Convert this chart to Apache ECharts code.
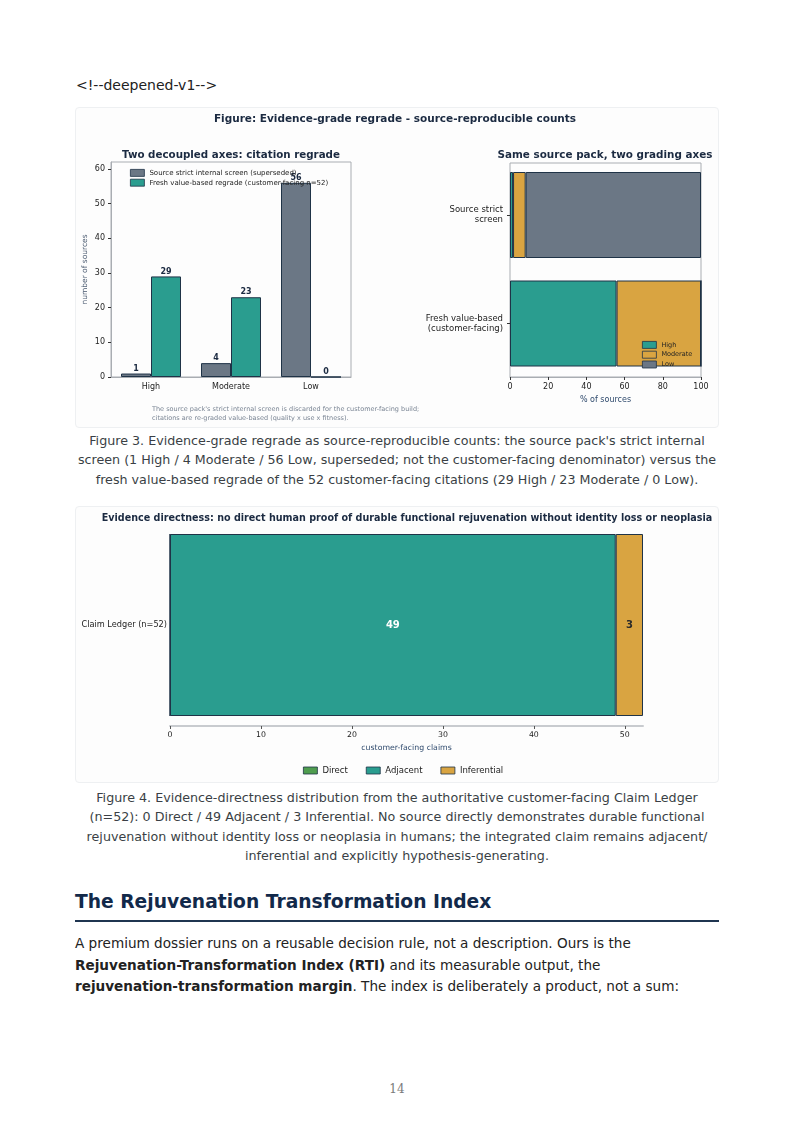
<!DOCTYPE html>
<html>
<head>
<meta charset="utf-8">
<script src="https://cdn.jsdelivr.net/npm/echarts@6/dist/echarts.min.js"></script>
<style>
  html, body { margin: 0; padding: 0; background: #fff; }
  body { width: 794px; height: 1123px; position: relative; font-family: 'DejaVu Sans', sans-serif; color: #222; }
  .abs { position: absolute; }
  .marker { left: 76px; top: 77px; font-size: 14px; color: #222; }
  .figbox { left: 75px; width: 644px; border: 1px solid #eef0f2; border-radius: 4px; background: #fdfdfd; box-sizing: border-box; }
  .caption { left: 60px; width: 674px; text-align: center; font-size: 12.7px; line-height: 19.4px; color: #3a3f45; white-space: nowrap; }
  h2 { position: absolute; left: 75px; top: 891px; margin: 0; font-size: 18.7px; color: #12294a; font-weight: bold; }
  .rule { left: 75px; top: 920px; width: 644px; height: 2px; background: #1f3550; }
  .para { left: 75px; top: 933px; font-size: 13.6px; line-height: 21.5px; color: #222; white-space: nowrap; }
  .pageno { left: 0; width: 794px; top: 1082px; text-align: center; font-family: 'DejaVu Serif', serif; font-size: 12px; color: #7a7a7a; }
</style>
</head>
<body>
<div class="abs marker">&lt;!--deepened-v1--&gt;</div>
<div id="fig3" class="abs figbox" style="top:107px;height:321px;"></div>
<div class="abs caption" style="top:431px;">Figure 3. Evidence-grade regrade as source-reproducible counts: the source pack's strict internal<br>screen (1 High / 4 Moderate / 56 Low, superseded; not the customer-facing denominator) versus the<br>fresh value-based regrade of the 52 customer-facing citations (29 High / 23 Moderate / 0 Low).</div>
<div id="fig4" class="abs figbox" style="top:506px;height:277px;"></div>
<div class="abs caption" style="top:788px;">Figure 4. Evidence-directness distribution from the authoritative customer-facing Claim Ledger<br>(n=52): 0 Direct / 49 Adjacent / 3 Inferential. No source directly demonstrates durable functional<br>rejuvenation without identity loss or neoplasia in humans; the integrated claim remains adjacent/<br>inferential and explicitly hypothesis-generating.</div>
<h2>The Rejuvenation Transformation Index</h2>
<div class="abs rule"></div>
<div class="abs para">A premium dossier runs on a reusable decision rule, not a description. Ours is the<br><b>Rejuvenation-Transformation Index (RTI)</b> and its measurable output, the<br><b>rejuvenation-transformation margin</b>. The index is deliberately a product, not a sum:</div>
<div class="abs pageno">14</div>

<script>
// figure 3 data
const grades = ['High', 'Moderate', 'Low'];
const strictCounts = [1, 4, 56];
const freshCounts = [29, 23, 0];
const packRows = ['Fresh value-based\n(customer-facing)', 'Source strict\nscreen'];
const highPct = [55.8, 1.6];
const moderatePct = [44.2, 6.6];
const lowPct = [0, 91.8];
const countTicks = [0, 10, 20, 30, 40, 50, 60];
const pctTicks = [0, 20, 40, 60, 80, 100];

// figure 4 data
const ledgerRow = ['Claim Ledger (n=52)'];
const directnessLevels = ['Direct', 'Adjacent', 'Inferential'];
const ledgerCounts = [0, 49, 3];
const claimTicks = [0, 10, 20, 30, 40, 50];

const FONT = 'DejaVu Sans';
const NAVY = '#1b2a41';
const EDGE = '#1f3347';
const SLATE = '#6b7785';
const TEAL = '#2a9d8f';
const GOLD = '#d9a441';
const GREEN = '#4f9d4f';
const AXIS = '#a9adb2';

function titleText(size) {
  return { fontSize: size, fontWeight: 'bold', color: NAVY, fontFamily: FONT };
}

const fig3 = echarts.init(document.getElementById('fig3'));
fig3.setOption({
  animation: false,
  textStyle: { fontFamily: FONT },
  title: [
    { text: 'Figure: Evidence-grade regrade - source-reproducible counts', left: 319, top: 6, padding: 0, textAlign: 'center', textStyle: titleText(10.5) },
    { text: 'Two decoupled axes: citation regrade', left: 155, top: 42, padding: 0, textAlign: 'center', textStyle: titleText(10.3) },
    { text: 'Same source pack, two grading axes', left: 529, top: 42, padding: 0, textAlign: 'center', textStyle: titleText(10.4) },
    { text: "The source pack's strict internal screen is discarded for the customer-facing build;\ncitations are re-graded value-based (quality x use x fitness).", left: 76, top: 297, padding: 0,
      textStyle: { fontSize: 6.5, fontWeight: 'normal', color: '#7a8594', lineHeight: 9, fontFamily: FONT } }
  ],
  legend: [
    { data: ['Source strict internal screen (superseded)', 'Fresh value-based regrade (customer-facing n=52)'],
      orient: 'vertical', left: 49, top: 56, itemWidth: 14, itemHeight: 7, itemGap: 2, icon: 'rect',
      itemStyle: { borderWidth: 0.8 },
      textStyle: { fontSize: 7, color: '#222', fontFamily: FONT } },
    { data: grades, orient: 'vertical', left: 561, top: 228, itemWidth: 14, itemHeight: 7, itemGap: 2, icon: 'rect',
      itemStyle: { borderWidth: 0.8 },
      textStyle: { fontSize: 6.5, color: '#222', fontFamily: FONT } }
  ],
  grid: [
    { left: 35, top: 54, width: 240, height: 215, show: true, borderColor: AXIS, borderWidth: 1, backgroundColor: 'transparent' },
    { left: 434, top: 55, width: 191, height: 214, show: true, borderColor: AXIS, borderWidth: 1, backgroundColor: 'transparent' },
    { left: 434, top: 52.75, width: 191, height: 217 }
  ],
  xAxis: [
    { gridIndex: 0, type: 'category', data: grades,
      axisLine: { lineStyle: { color: AXIS } }, axisTick: { alignWithLabel: true, length: 3, lineStyle: { color: '#333' } },
      axisLabel: { fontSize: 8, color: '#222', margin: 6 } },
    { gridIndex: 1, type: 'value', min: 0, max: 100, interval: 20, splitLine: { show: false },
      axisLine: { lineStyle: { color: AXIS } }, axisTick: { length: 3, lineStyle: { color: '#333' } },
      axisLabel: { fontSize: 8, color: '#222', margin: 6, customValues: pctTicks },
      name: '% of sources', nameLocation: 'middle', nameGap: 18, nameTextStyle: { fontSize: 8, color: '#2f4a6d' } },
    { gridIndex: 2, type: 'value', min: 0, max: 100, show: false }
  ],
  yAxis: [
    { gridIndex: 0, type: 'value', min: 0, max: 62, interval: 10, splitLine: { show: false },
      axisLine: { show: true, lineStyle: { color: AXIS } },
      axisTick: { show: true, length: 3, lineStyle: { color: '#333' }, customValues: countTicks },
      axisLabel: { fontSize: 8, color: '#222', margin: 6, customValues: countTicks },
      name: 'number of sources', nameLocation: 'middle', nameGap: 22, nameRotate: 90,
      nameTextStyle: { fontSize: 7.5, color: '#4a5a70' } },
    { gridIndex: 1, type: 'value', min: 0, max: 1, show: false },
    { gridIndex: 2, type: 'category', data: packRows,
      axisLine: { show: false }, axisTick: { show: true, length: 3, alignWithLabel: true, lineStyle: { color: '#333' } },
      axisLabel: { fontSize: 8.5, color: '#222', margin: 7, lineHeight: 10, align: 'right' } }
  ],
  series: [
    { name: 'Source strict internal screen (superseded)', type: 'bar', xAxisIndex: 0, yAxisIndex: 0,
      data: strictCounts, barWidth: 30, barGap: '0%',
      itemStyle: { color: SLATE, borderColor: EDGE, borderWidth: 1 },
      label: { show: true, position: 'top', distance: 1, fontSize: 8, fontWeight: 'bold', color: NAVY } },
    { name: 'Fresh value-based regrade (customer-facing n=52)', type: 'bar', xAxisIndex: 0, yAxisIndex: 0,
      data: freshCounts, barWidth: 30, barGap: '0%',
      itemStyle: { color: TEAL, borderColor: EDGE, borderWidth: 1 },
      label: { show: true, position: 'top', distance: 1, fontSize: 8, fontWeight: 'bold', color: NAVY } },
    { name: 'High', type: 'bar', stack: 'pack', xAxisIndex: 2, yAxisIndex: 2, data: highPct, barWidth: 86,
      itemStyle: { color: TEAL, borderColor: EDGE, borderWidth: 1 } },
    { name: 'Moderate', type: 'bar', stack: 'pack', xAxisIndex: 2, yAxisIndex: 2, data: moderatePct, barWidth: 86,
      itemStyle: { color: GOLD, borderColor: EDGE, borderWidth: 1 } },
    { name: 'Low', type: 'bar', stack: 'pack', xAxisIndex: 2, yAxisIndex: 2, data: lowPct, barWidth: 86,
      itemStyle: { color: SLATE, borderColor: EDGE, borderWidth: 1 } }
  ]
});

const fig4 = echarts.init(document.getElementById('fig4'));
fig4.setOption({
  animation: false,
  textStyle: { fontFamily: FONT },
  title: { text: 'Evidence directness: no direct human proof of durable functional rejuvenation without identity loss or neoplasia',
    left: 331, top: 6, padding: 0, textAlign: 'center', textStyle: titleText(9.6) },
  legend: { data: directnessLevels, left: 222, top: 254, itemWidth: 14, itemHeight: 7, itemGap: 18, icon: 'rect',
    itemStyle: { borderWidth: 0.8 },
    textStyle: { fontSize: 8.5, color: '#222', fontFamily: FONT } },
  grid: { left: 94, top: 27, width: 473, height: 182 },
  xAxis: { type: 'value', min: 0, max: 52, interval: 10, offset: 10, splitLine: { show: false },
    axisLine: { show: true, lineStyle: { color: '#c8cbcf', width: 2 } },
    axisTick: { show: true, length: 3, lineStyle: { color: '#555' }, customValues: claimTicks },
    axisLabel: { fontSize: 7.8, color: '#222', margin: 5, customValues: claimTicks },
    name: 'customer-facing claims', nameLocation: 'middle', nameGap: 16, nameTextStyle: { fontSize: 7.8, color: '#2f4a6d' } },
  yAxis: { type: 'category', data: ledgerRow, axisLine: { show: false }, axisTick: { show: false },
    axisLabel: { fontSize: 8.2, color: '#222', margin: 3 } },
  series: directnessLevels.map((name, i) => ({
    name, type: 'bar', stack: 'ledger', barWidth: 182,
    data: [ledgerCounts[i]],
    itemStyle: { color: [GREEN, TEAL, GOLD][i], borderColor: EDGE, borderWidth: 1 },
    label: { show: ledgerCounts[i] > 0, position: 'inside', fontSize: 10, fontWeight: 'bold',
      color: i === 1 ? '#fff' : '#2b2b2b' }
  }))
});
</script>
</body>
</html>
